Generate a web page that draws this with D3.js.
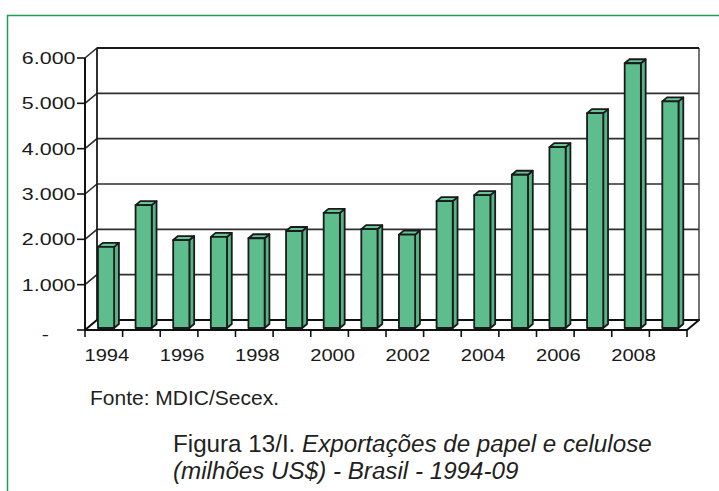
<!DOCTYPE html>
<html>
<head>
<meta charset="utf-8">
<script src="https://cdn.jsdelivr.net/npm/d3@7"></script>
<style>
  body { margin: 0; background: #fff; }
  svg { display: block; }
  .axis-label { font-family: "Liberation Sans", Arial, sans-serif; font-size: 16.5px; fill: #1a1a1a; }
  .note { font-family: "Liberation Sans", Arial, sans-serif; fill: #231f20; }
</style>
</head>
<body>
<script>
// Exportações de papel e celulose, Brasil (milhões US$)
const years = [1994, 1995, 1996, 1997, 1998, 1999, 2000, 2001, 2002, 2003, 2004, 2005, 2006, 2007, 2008, 2009];
const exportValues = [1790, 2710, 1940, 2010, 1980, 2140, 2540, 2180, 2060, 2800, 2930, 3380, 3990, 4740, 5840, 5000];
const yTicks = [0, 1000, 2000, 3000, 4000, 5000, 6000];
const yearLabels = [1994, 1996, 1998, 2000, 2002, 2004, 2006, 2008];

const W = 719, H = 491;
const svg = d3.select("body").append("svg").attr("width", W).attr("height", H);

// green page frame
svg.append("path")
  .attr("d", "M7.5,491 V15.5 H719")
  .attr("fill", "none").attr("stroke", "#1f9b52").attr("stroke-width", 1.5);

// plot geometry (front plane) and depth of the 3D box
const plot = { left: 85, right: 687, bottom: 330, top: 58 };
const depth = { dx: 12, dy: -10 };
const x = d3.scaleBand().domain(years).range([plot.left, plot.right]);
const y = d3.scaleLinear().domain([0, 6000]).range([plot.bottom, plot.top]);
const at = (px, py, f) => [px + depth.dx * f, py + depth.dy * f];
const poly = pts => "M" + pts.map(p => p.join(",")).join("L") + "Z";
const line = pts => "M" + pts.map(p => p.join(",")).join("L");

const fmt = d3.formatLocale({ decimal: ",", thousands: ".", grouping: [3], currency: ["R$", ""] }).format(",d");
const yLabelStretch = 1.3;  // wide axis lettering
const xLabelStretch = 1.22;

const box = svg.append("g");

// back wall
box.append("path")
  .attr("d", poly([at(plot.left, y(6000), 1), at(plot.right, y(6000), 1), at(plot.right, y(0), 1), at(plot.left, y(0), 1)]))
  .attr("fill", "#fff").attr("stroke", "none");

// gridlines on the back wall and the left wall
yTicks.forEach(t => {
  box.append("path")
    .attr("d", line([at(plot.left, y(t), 0), at(plot.left, y(t), 1), at(plot.right, y(t), 1)]))
    .attr("fill", "none").attr("stroke", "#2e2e2e").attr("stroke-width", 1.6);
});

// wall edges
box.append("path")
  .attr("d", line([at(plot.left, y(0), 1), at(plot.left, y(6000), 1)]))
  .attr("stroke", "#1a1a1a").attr("stroke-width", 1.8).attr("fill", "none");
box.append("path")
  .attr("d", line([at(plot.right, y(0), 1), at(plot.right, y(6000), 1)]))
  .attr("stroke", "#3a3a3a").attr("stroke-width", 1.4).attr("fill", "none");
box.append("path")
  .attr("d", line([at(plot.left, y(6000), 1), at(plot.right, y(6000), 1)]))
  .attr("stroke", "#1a1a1a").attr("stroke-width", 1.8).attr("fill", "none");

// floor
box.append("path")
  .attr("d", poly([at(plot.left, y(0), 0), at(plot.right, y(0), 0), at(plot.right, y(0), 1), at(plot.left, y(0), 1)]))
  .attr("fill", "#fff").attr("stroke", "#111").attr("stroke-width", 2).attr("stroke-linejoin", "round");

// front value axis
box.append("path")
  .attr("d", line([[plot.left, y(0)], [plot.left, y(6000)]]))
  .attr("stroke", "#111").attr("stroke-width", 2).attr("fill", "none");

// bars
const bw = x.bandwidth();
const fFront = 0.2, fBack = 0.6;
const bars = svg.append("g");
years.forEach((yr, i) => {
  const v = exportValues[i];
  const x0 = x(yr) + bw * 0.28;
  const x1 = x0 + bw * 0.43;
  const g = bars.append("g")
    .attr("stroke", "#1a1a1a").attr("stroke-width", 1.8).attr("stroke-linejoin", "round");
  g.append("path")
    .attr("d", poly([at(x1, y(v), fFront), at(x1, y(v), fBack), at(x1, y(0), fBack), at(x1, y(0), fFront)]))
    .attr("fill", "#56b586");
  g.append("path")
    .attr("d", poly([at(x0, y(v), fFront), at(x1, y(v), fFront), at(x1, y(v), fBack), at(x0, y(v), fBack)]))
    .attr("fill", "#67c496");
  g.append("path")
    .attr("d", poly([at(x0, y(v), fFront), at(x1, y(v), fFront), at(x1, y(0), fFront), at(x0, y(0), fFront)]))
    .attr("fill", "#5ebd8d");
});

// value axis ticks and labels
const yAxis = svg.append("g");
yTicks.forEach(t => {
  yAxis.append("line")
    .attr("x1", plot.left - 8).attr("x2", plot.left)
    .attr("y1", y(t)).attr("y2", y(t))
    .attr("stroke", "#111").attr("stroke-width", 1.6);
  const lx = t === 0 ? plot.left - 36 : plot.left - 9.5;
  const ly = y(t) + (t === 0 ? 4 : 0);
  yAxis.append("text")
    .attr("class", "axis-label")
    .attr("transform", `translate(${lx},${ly}) scale(${yLabelStretch},1)`)
    .attr("dy", "0.36em")
    .attr("text-anchor", "end")
    .text(t === 0 ? "-" : fmt(t));
});

// category axis ticks and labels
const xAxis = svg.append("g");
years.concat([null]).forEach((yr) => {
  const px = yr === null ? plot.right : x(yr);
  xAxis.append("line")
    .attr("x1", px).attr("x2", px)
    .attr("y1", plot.bottom).attr("y2", plot.bottom + 7)
    .attr("stroke", "#111").attr("stroke-width", 1.6);
});
yearLabels.forEach(yr => {
  xAxis.append("text")
    .attr("class", "axis-label")
    .attr("transform", `translate(${x(yr) + bw / 2 + 3},${plot.bottom + 31}) scale(${xLabelStretch},1)`)
    .attr("text-anchor", "middle")
    .text(yr);
});

// source and caption
svg.append("text").attr("class", "note")
  .attr("x", 90).attr("y", 405).attr("font-size", 21)
  .text("Fonte: MDIC/Secex.");

const cap = svg.append("text").attr("class", "note").attr("font-size", 24.2);
const l1 = cap.append("tspan").attr("x", 173).attr("y", 452);
l1.append("tspan").text("Figura 13/I. ");
l1.append("tspan").attr("font-style", "italic").text("Exportações de papel e celulose");
cap.append("tspan").attr("x", 173).attr("y", 479).attr("font-style", "italic")
  .text("(milhões US$) - Brasil - 1994-09");
</script>
</body>
</html>
